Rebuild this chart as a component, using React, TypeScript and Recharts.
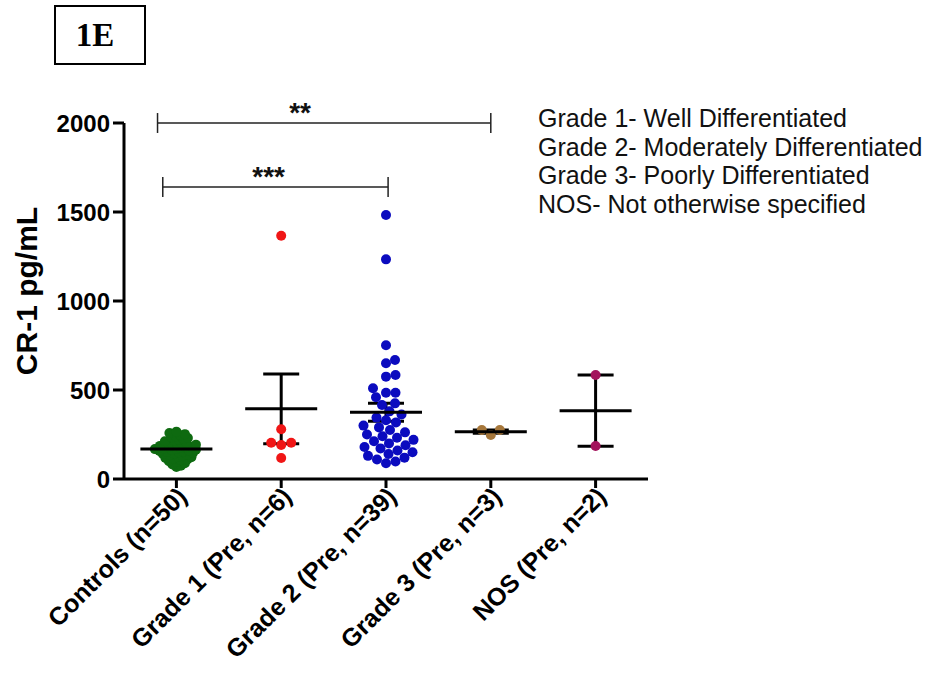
import React from 'react';
import {
	ScatterChart,
	Scatter,
	XAxis,
	YAxis,
	ErrorBar,
	ReferenceLine,
	ReferenceDot,
} from 'recharts';

// groups on the x axis
const groupLabels = [
	'Controls (n=50)',
	'Grade 1 (Pre, n=6)',
	'Grade 2 (Pre, n=39)',
	'Grade 3 (Pre, n=3)',
	'NOS (Pre, n=2)',
];
const groupColors = ['#0e6a10', '#f01616', '#0b0bbf', '#a6773b', '#a3135c'];

// CR-1 pg/mL
const controlsValues = [
	67, 75, 82, 88, 95, 100, 105, 110, 115, 118,
	122, 125, 130, 133, 137, 140, 143, 146, 150, 152,
	155, 158, 160, 163, 165, 168, 170, 172, 175, 178,
	180, 183, 186, 190, 193, 196, 200, 204, 208, 212,
	216, 220, 225, 230, 235, 240, 246, 252, 258, 266,
];
const grade1Values = [1367, 279, 204, 204, 191, 118];
const grade2Values = [
	1483, 1234, 751, 669, 650, 584, 575, 510, 485, 485,
	459, 425, 416, 380, 362, 345, 330, 318, 300, 290,
	275, 262, 250, 240, 232, 220, 212, 200, 190, 180,
	172, 160, 150, 140, 130, 120, 110, 98, 88,
];
const grade3Values = [275, 247, 275];
const nosValues = [584, 185];

// mean +/- SEM lines
const groupMeans = [168, 394, 375, 266, 384];
const groupSems = [7, 196, 50, 9, 200];

const yTicks = [0, 500, 1000, 1500, 2000];
const xTicks = [0, 1, 2, 3, 4];

const legendLines = [
	'Grade 1- Well Differentiated',
	'Grade 2- Moderately Differentiated',
	'Grade 3- Poorly Differentiated',
	'NOS- Not otherwise specified',
];

// significance brackets (x in group units, y in pg/mL)
const brackets = [
	{ label: '**', from: -0.18, to: 3.0, y: 2000, labelX: 1.18 },
	{ label: '***', from: -0.13, to: 2.02, y: 1640, labelX: 0.88 },
];

const CHART_W = 927;
const CHART_H = 692;
const MARGIN = { top: 123, right: 279, bottom: 13, left: 44 };
const Y_AXIS_W = 80;
const X_AXIS_H = 200;
const X_DOMAIN = [-0.5, 4.5];
const Y_DOMAIN = [0, 2000];
const PLOT_W = CHART_W - MARGIN.left - Y_AXIS_W - MARGIN.right;
const PLOT_H = CHART_H - MARGIN.top - MARGIN.bottom - X_AXIS_H;
const DOT_R = 5;
const swarmGap = [4.5, 10, 9.5, 10, 10];
const FONT = '"Liberation Sans", Arial, sans-serif';

// simple beeswarm so dots of one column don't pile up
function swarm(values: number[], index: number, gap: number) {
	const pxX = PLOT_W / (X_DOMAIN[1] - X_DOMAIN[0]);
	const pxY = PLOT_H / (Y_DOMAIN[1] - Y_DOMAIN[0]);
	const placed: { dx: number; py: number }[] = [];
	const order = values.map((_, i) => i).sort((a, b) => values[a] - values[b]);
	const out: { x: number; y: number }[] = new Array(values.length);
	for (const i of order) {
		const py = values[i] * pxY;
		let dx = 0;
		for (let k = 0; k < 400; k++) {
			const cand = k === 0 ? 0 : (k % 2 ? 1 : -1) * Math.ceil(k / 2) * 0.5;
			if (placed.every((p) => (p.dx - cand) ** 2 + (p.py - py) ** 2 >= gap * gap)) {
				dx = cand;
				break;
			}
		}
		placed.push({ dx, py });
		out[i] = { x: index + dx / pxX, y: values[i] };
	}
	return out;
}

const groupValues = [controlsValues, grade1Values, grade2Values, grade3Values, nosValues];
const meanData = groupMeans.map((m, i) => ({ x: i, y: m, sem: groupSems[i] }));

const XTick = (props: any) => {
	const { x, y, payload } = props;
	const ax = x + 12;
	const ay = y + 8;
	return (
		<text
			x={ax}
			y={ay}
			transform={`rotate(-45, ${ax}, ${ay})`}
			textAnchor="end"
			fontFamily={FONT}
			fontSize={25}
			fontWeight="bold"
			fill="#000"
		>
			{groupLabels[payload.value]}
		</text>
	);
};

const MeanLine = (props: any) => {
	const { cx, cy } = props;
	return <line x1={cx - 36} x2={cx + 36} y1={cy} y2={cy} stroke="#000" strokeWidth={3} />;
};

export default function App() {
	return (
		<div style={{ position: 'absolute', left: 0, top: 0, width: CHART_W, height: CHART_H, background: '#fff' }}>
			<div
				style={{
					position: 'absolute',
					left: 54,
					top: 5,
					width: 88,
					height: 56,
					border: '2px solid #000',
					display: 'flex',
					alignItems: 'center',
					justifyContent: 'center',
					boxSizing: 'content-box',
					paddingRight: 0,
					fontFamily: '"Liberation Serif", "Times New Roman", serif',
					fontWeight: 'bold',
					fontSize: 33,
				}}
			>
				<span style={{ marginRight: 10 }}>1E</span>
			</div>
			<div
				style={{
					position: 'absolute',
					left: 538,
					top: 104,
					fontFamily: FONT,
					fontSize: 25,
					lineHeight: '28.5px',
					color: '#111',
					whiteSpace: 'nowrap',
				}}
			>
				{legendLines.map((t) => (
					<div key={t}>{t}</div>
				))}
			</div>
			<ScatterChart width={CHART_W} height={CHART_H} margin={MARGIN} style={{ position: 'absolute', left: 0, top: 0 }}>
				<XAxis
					type="number"
					dataKey="x"
					domain={X_DOMAIN}
					ticks={xTicks}
					interval={0}
					height={X_AXIS_H}
					tickSize={9}
					tickMargin={2}
					axisLine={{ stroke: '#000', strokeWidth: 3 }}
					tickLine={{ stroke: '#000', strokeWidth: 3 }}
					tick={<XTick />}
					allowDataOverflow
				/>
				<YAxis
					type="number"
					dataKey="y"
					domain={Y_DOMAIN}
					ticks={yTicks}
					width={Y_AXIS_W}
					tickSize={11}
					tickMargin={3}
					axisLine={{ stroke: '#000', strokeWidth: 3 }}
					tickLine={{ stroke: '#000', strokeWidth: 3 }}
					tick={{ fill: '#000', fontSize: 24, fontWeight: 'bold', fontFamily: FONT }}
					allowDataOverflow
					label={{
						content: (p: any) => {
							const vb = p.viewBox;
							const cy = vb.y + vb.height / 2 - 10;
							return (
								<text
									x={26}
									y={cy}
									transform={`rotate(-90, 26, ${cy})`}
									textAnchor="middle"
									dominantBaseline="central"
									fontFamily={FONT}
									fontSize={30}
									fontWeight="bold"
									fill="#000"
								>
									CR-1 pg/mL
								</text>
							);
						},
					}}
				/>
				{brackets.map((b) => (
					<ReferenceLine
						key={b.label + 'h'}
						segment={[{ x: b.from, y: b.y }, { x: b.to, y: b.y }]}
						stroke="#222"
						strokeWidth={1.5}
						ifOverflow="visible"
					/>
				))}
				{brackets.flatMap((b) =>
					[b.from, b.to].map((xv) => (
						<ReferenceLine
							key={b.label + xv}
							segment={[{ x: xv, y: b.y - 56 }, { x: xv, y: b.y + 56 }]}
							stroke="#222"
							strokeWidth={1.5}
							ifOverflow="visible"
						/>
					))
				)}
				{brackets.map((b) => (
					<ReferenceDot
						key={b.label + 't'}
						x={b.labelX}
						y={b.y}
						r={1}
						fill="none"
						stroke="none"
						ifOverflow="visible"
						label={{ value: b.label, position: 'top', offset: 0, fill: '#111', fontSize: 28, fontWeight: 'bold', fontFamily: FONT }}
					/>
				))}
				{groupValues.map((vals, i) => (
					<Scatter
						key={groupLabels[i]}
						data={swarm(vals, i, swarmGap[i])}
						isAnimationActive={false}
						shape={(p: any) => <circle cx={p.cx} cy={p.cy} r={DOT_R} fill={groupColors[i]} />}
					/>
				))}
				<Scatter data={meanData} isAnimationActive={false} shape={<MeanLine />}>
					<ErrorBar dataKey="sem" direction="y" width={18} stroke="#000" strokeWidth={3} />
				</Scatter>
			</ScatterChart>
		</div>
	);
}
